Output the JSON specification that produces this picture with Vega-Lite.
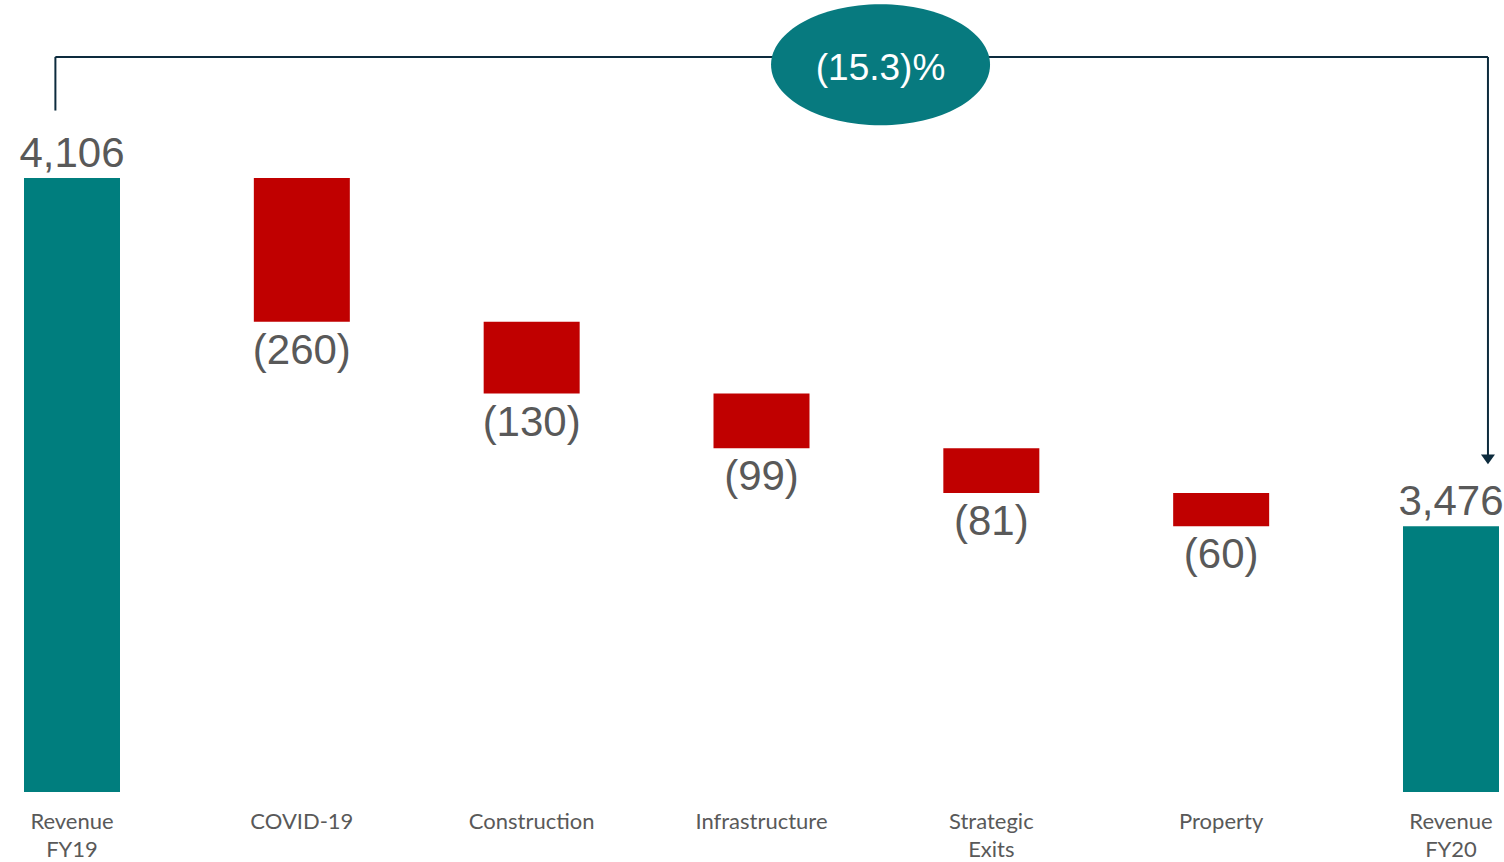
{
  "$schema": "https://vega.github.io/schema/vega-lite/v6.json",
  "width": 1475,
  "height": 792,
  "autosize": "none",
  "padding": {"left": 24, "top": 0, "right": 5, "bottom": 70},
  "background": "white",
  "config": {"view": {"stroke": null}},
  "layer": [
    {
      "data": {"values": [
        {"cat": "Revenue FY19", "start": 0, "end": 4106, "kind": "total", "label": "4,106"},
        {"cat": "COVID-19", "start": 4106, "end": 3846, "kind": "change", "label": "(260)"},
        {"cat": "Construction", "start": 3846, "end": 3716, "kind": "change", "label": "(130)"},
        {"cat": "Infrastructure", "start": 3716, "end": 3617, "kind": "change", "label": "(99)"},
        {"cat": "Strategic Exits", "start": 3617, "end": 3536, "kind": "change", "label": "(81)"},
        {"cat": "Property", "start": 3536, "end": 3476, "kind": "change", "label": "(60)"},
        {"cat": "Revenue FY20", "start": 0, "end": 3476, "kind": "total", "label": "3,476"}
      ]},
      "layer": [
        {
          "mark": {"type": "bar"},
          "encoding": {
            "x": {
              "field": "cat", "type": "nominal", "sort": null,
              "scale": {
                "domain": ["Revenue FY19", "COVID-19", "Construction", "Infrastructure", "Strategic Exits", "Property", "Revenue FY20"],
                "paddingInner": 0.5823, "paddingOuter": 0
              },
              "axis": {
                "title": null, "domain": false, "ticks": false, "labelAngle": 0,
                "labelFont": "Lato", "labelFontSize": 22, "labelColor": "#595959",
                "labelPadding": 19, "labelLineHeight": 28, "labelOverlap": false,
                "labelExpr": "split(datum.label, ' ')"
              }
            },
            "y": {"field": "end", "type": "quantitative",
                  "scale": {"domain": [2995, 4428], "clamp": true, "zero": false, "nice": false},
                  "axis": null},
            "y2": {"field": "start"},
            "color": {"field": "kind", "type": "nominal",
                      "scale": {"domain": ["total", "change"], "range": ["#007E7E", "#C00000"]},
                      "legend": null}
          }
        },
        {
          "transform": [{"filter": "datum.kind == 'total'"}],
          "mark": {"type": "text", "baseline": "alphabetic", "dy": -11, "font": "Liberation Sans", "fontSize": 42, "color": "#595959"},
          "encoding": {
            "x": {"field": "cat", "type": "nominal", "sort": null},
            "y": {"field": "end", "type": "quantitative"},
            "text": {"field": "label"}
          }
        },
        {
          "transform": [{"filter": "datum.kind == 'change'"}],
          "mark": {"type": "text", "baseline": "alphabetic", "dy": 42, "font": "Liberation Sans", "fontSize": 42, "color": "#595959"},
          "encoding": {
            "x": {"field": "cat", "type": "nominal", "sort": null},
            "y": {"field": "end", "type": "quantitative"},
            "text": {"field": "label"}
          }
        }
      ]
    },
    {
      "data": {"values": [{"from": "Revenue FY19", "to": "Revenue FY20", "level": 4325}]},
      "mark": {"type": "rule", "color": "#0D2B3D", "strokeWidth": 2},
      "encoding": {
        "x": {"field": "from", "type": "nominal", "bandPosition": 0.327},
        "x2": {"field": "to", "bandPosition": 0.885},
        "y": {"field": "level", "type": "quantitative"}
      }
    },
    {
      "data": {"values": [{"cat": "Revenue FY19", "top": 4325, "bottom": 4228}]},
      "mark": {"type": "rule", "color": "#0D2B3D", "strokeWidth": 2},
      "encoding": {
        "x": {"field": "cat", "type": "nominal", "bandPosition": 0.327},
        "y": {"field": "top", "type": "quantitative"},
        "y2": {"field": "bottom"}
      }
    },
    {
      "data": {"values": [{"cat": "Revenue FY20", "top": 4325, "bottom": 3600, "tip": 3597}]},
      "layer": [
        {
          "mark": {"type": "rule", "color": "#0D2B3D", "strokeWidth": 2},
          "encoding": {
            "x": {"field": "cat", "type": "nominal", "bandPosition": 0.885},
            "y": {"field": "top", "type": "quantitative"},
            "y2": {"field": "bottom"}
          }
        },
        {
          "mark": {"type": "point", "shape": "M -1 -0.7 L 1 -0.7 L 0 0.7 Z", "size": 196, "filled": true, "opacity": 1, "color": "#0D2B3D", "strokeWidth": 0},
          "encoding": {
            "x": {"field": "cat", "type": "nominal", "bandPosition": 0.885},
            "y": {"field": "tip", "type": "quantitative"}
          }
        }
      ]
    },
    {
      "data": {"values": [{"cat": "Infrastructure", "v": 4311, "text": "(15.3)%"}]},
      "layer": [
        {
          "mark": {"type": "point", "shape": "M -1 0 A 1 0.5525 0 1 1 1 0 A 1 0.5525 0 1 1 -1 0 Z", "size": 47961, "filled": true, "opacity": 1, "color": "#077A7F", "strokeWidth": 0},
          "encoding": {
            "x": {"field": "cat", "type": "nominal", "bandPosition": 1.74},
            "y": {"field": "v", "type": "quantitative"}
          }
        },
        {
          "mark": {"type": "text", "baseline": "alphabetic", "dy": 15, "font": "Liberation Sans", "fontSize": 37, "color": "white"},
          "encoding": {
            "x": {"field": "cat", "type": "nominal", "bandPosition": 1.74},
            "y": {"field": "v", "type": "quantitative"},
            "text": {"field": "text"}
          }
        }
      ]
    }
  ]
}
